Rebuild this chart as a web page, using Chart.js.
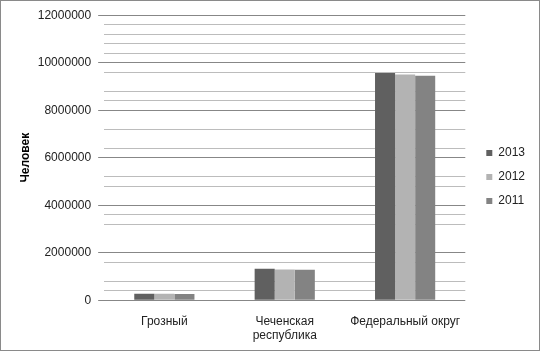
<!DOCTYPE html>
<html>
<head>
<meta charset="utf-8">
<script src="https://cdn.jsdelivr.net/npm/chart.js@4"></script>
<style>
  body { margin: 0; background: #fff; }
  #wrap { width: 538px; height: 349px; border: 1px solid #8a8a8a; }
</style>
</head>
<body>
<div id="wrap"><canvas id="chartPopulation" width="538" height="349"></canvas></div>
<script>
// Population, persons
const categories = ["Грозный", ["Чеченская", "республика"], "Федеральный округ"];
const years = ["2013", "2012", "2011"];
const pop2013 = [271000, 1320000, 9570000];
const pop2012 = [268000, 1290000, 9500000];
const pop2011 = [266000, 1280000, 9450000];
const yTicksMajor = 2000000;
const yTicksMinor = 400000;

const barColors = ["#606060", "#b3b3b3", "#838383"];
const font = "'Liberation Sans', Arial, sans-serif";

// minor lines that actually show up in the picture
const shownMinor = [0.4, 0.8, 1.6, 3.2, 3.6, 4.8, 5.2, 6.4, 7.2, 8.4, 8.8, 9.6, 10.4, 10.8, 11.2, 11.6]
    .map(v => Math.round(v * 1000000));

const isMajor = v => v % yTicksMajor === 0;

const datasets = [pop2013, pop2012, pop2011].map((d, i) => ({
    label: years[i],
    data: d,
    backgroundColor: barColors[i],
    borderWidth: 0,
    categoryPercentage: 0.5,
    barPercentage: 1
}));

// empty axes, they only keep some space free
const spacer = (pos, size) => ({
    type: "linear",
    position: pos,
    display: true,
    grid: { display: false },
    border: { display: false },
    ticks: { display: false },
    afterFit: s => {
        if (s.isHorizontal()) s.height = size; else s.width = size;
    }
});

const config = {
    type: "bar",
    data: { labels: categories, datasets: datasets },
    options: {
        responsive: false,
        animation: false,
        events: [],
        layout: { padding: { left: 17, top: 7, right: 4, bottom: 4 } },
        plugins: {
            tooltip: { enabled: false },
            legend: {
                position: "right",
                labels: {
                    boxWidth: 6,
                    boxHeight: 6,
                    padding: 12,
                    color: "#222",
                    font: { family: font, size: 12 }
                }
            }
        },
        scales: {
            x: {
                grid: { display: false, drawTicks: true, tickLength: 11, tickColor: "rgba(0,0,0,0)" },
                border: { display: false },
                ticks: {
                    padding: 3,
                    color: "#222",
                    maxRotation: 0,
                    font: { family: font, size: 12 }
                }
            },
            y: {
                min: 0,
                max: 12000000,
                border: { display: false },
                grid: {
                    tickLength: 6,
                    color: c => isMajor(c.tick.value) ? "#878787"
                        : (shownMinor.includes(c.tick.value) ? "#bcbcbc" : "rgba(0,0,0,0)"),
                    tickColor: c => isMajor(c.tick.value) ? "#878787" : "rgba(0,0,0,0)"
                },
                ticks: {
                    stepSize: yTicksMinor,
                    autoSkip: false,
                    padding: 7,
                    color: "#222",
                    font: { family: font, size: 12 },
                    callback: v => isMajor(v) ? String(v) : ""
                },
                title: {
                    display: true,
                    text: "Человек",
                    color: "#000",
                    padding: { top: 0, bottom: 6 },
                    font: { family: font, size: 12, weight: "bold" }
                }
            },
            gapRight: spacer("right", 9),
            gapTop: spacer("top", 7)
        }
    }
};

let ctx = document.getElementById("chartPopulation");
let barChart = new Chart(ctx, config);
</script>
</body>
</html>
